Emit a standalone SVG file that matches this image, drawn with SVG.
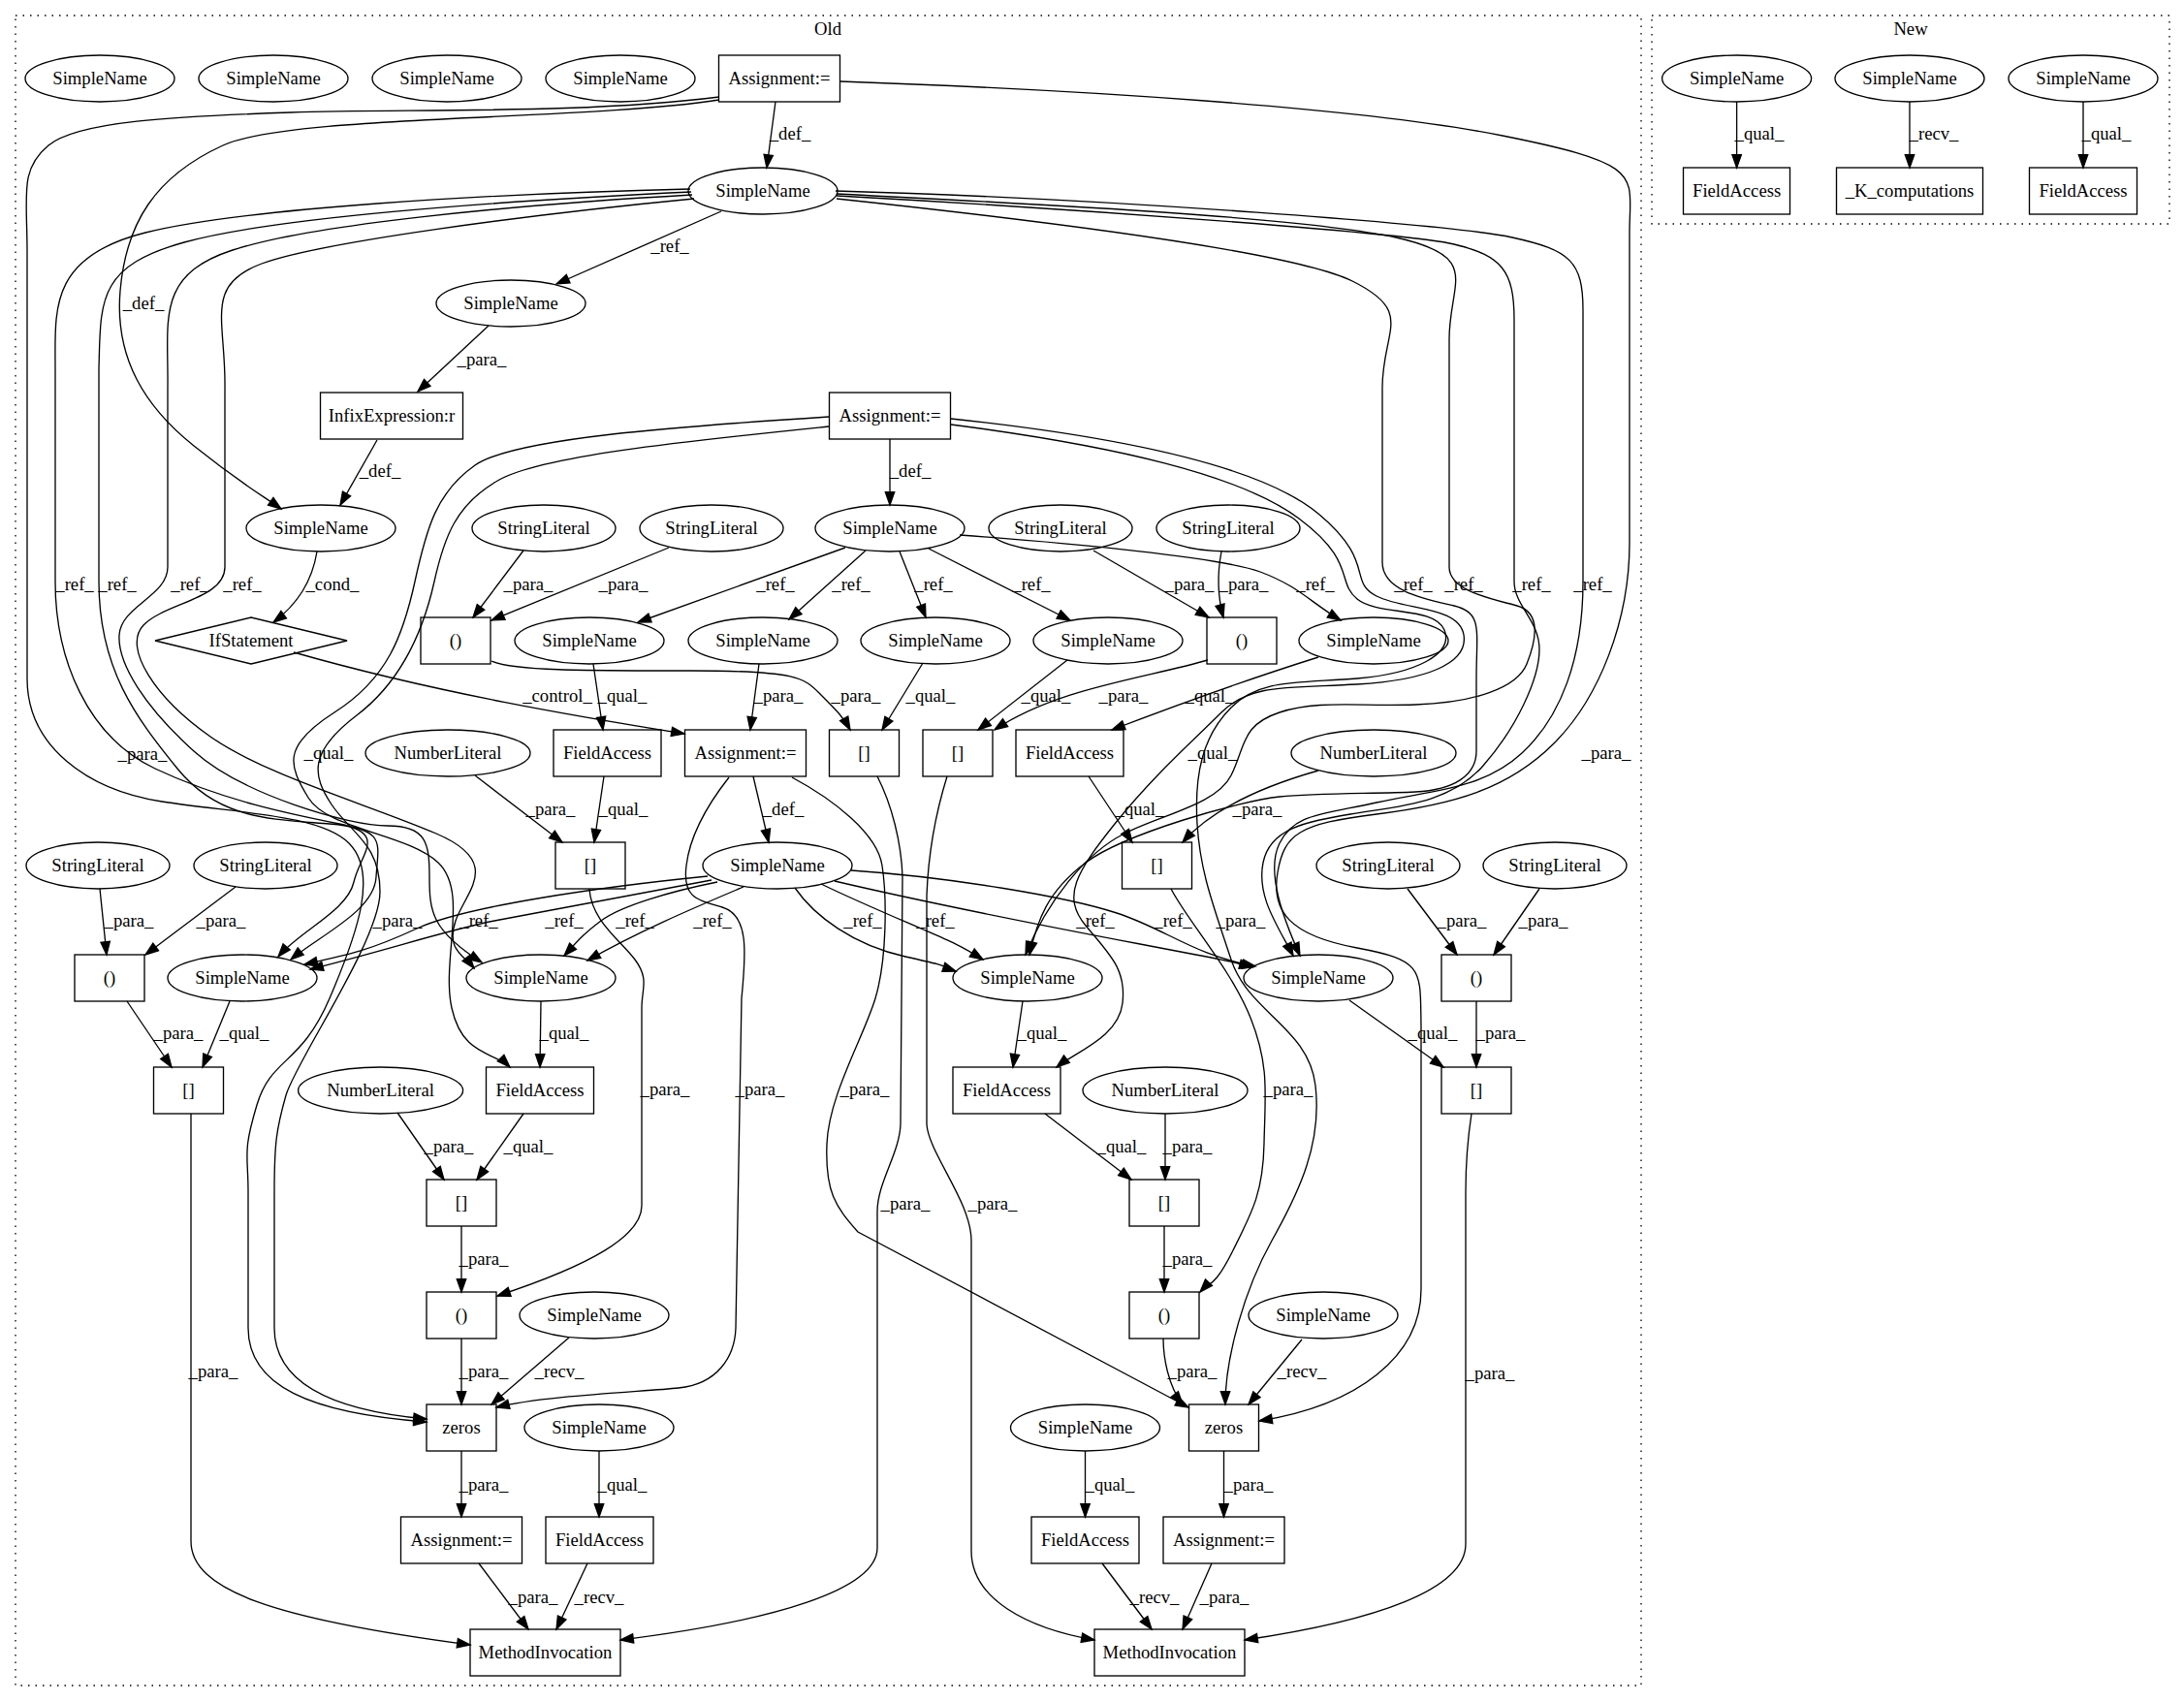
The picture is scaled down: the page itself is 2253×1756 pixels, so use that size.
<svg xmlns="http://www.w3.org/2000/svg" width="2253" height="1756" viewBox="0 0 2253 1756">
<style>
.n ellipse,.n rect,.n polygon{fill:none;stroke:#000;stroke-width:1.33}
text{font-family:"Liberation Serif","Times New Roman",serif;font-size:18.67px;fill:#000;text-anchor:middle}
.e path{fill:none;stroke:#000;stroke-width:1.33;marker-end:url(#a)}
.cl{fill:none;stroke:#000;stroke-width:1.33;stroke-dasharray:1.5,6}
</style>
<defs>
<marker id="a" markerUnits="userSpaceOnUse" markerWidth="15" markerHeight="11" refX="13.3" refY="5" orient="auto" overflow="visible">
<path d="M0,0.3 L13.3,5 L0,9.7 Z" fill="#000" stroke="#000" stroke-width="1.33"/>
</marker>
</defs>
<rect x="0" y="0" width="2253" height="1756" fill="#fff"/>
<g id="cluster_old"><rect class="cl" x="16" y="16" width="1677" height="1723"/><text x="854" y="36">Old</text></g>
<g id="cluster_new"><rect class="cl" x="1704" y="16" width="534" height="215"/><text x="1971" y="36">New</text></g>

<g id="edges" class="e">
<path d="M1791.6,105 L1791.6,173"/><text x="1815" y="144">_qual_</text>
<path d="M1970,105 L1970,173"/><text x="1995" y="144">_recv_</text>
<path d="M2149,105 L2149,173"/><text x="2173" y="144">_qual_</text>

<path d="M800,105 L791,173"/><text x="815" y="144">_def_</text>
<path d="M742,103 C 600,125 300,118 230,150 S 130,230 124,300 S 150,420 200,460 S 272,512 290,525"/><text x="148" y="319">_def_</text>
<path d="M742,100 C 600,118 420,112 300,116 S 80,125 50,150 S 28,200 28,260 L28,700 C 28,770 90,815 167,827 S 330,840 360,870 S 370,960 340,1030 S 280,1090 265,1140 S 256,1190 256,1230 L256,1370 C 256,1430 320,1458 440,1467"/><text x="147" y="784">_para_</text>
<path d="M867,84 C 1100,92 1400,110 1550,140 S 1681,180 1681,240 L1681,560 C 1681,640 1650,720 1603,767 S 1500,830 1420,840 S 1325,860 1318,900 S 1330,965 1400,978 S 1465,1000 1466,1060 L1466,1330 C 1466,1400 1400,1450 1299,1466"/><text x="1657" y="783">_para_</text>
<path d="M744,218 L574,293"/><text x="691" y="260">_ref_</text>
<path d="M504,336 L431,404"/><text x="497" y="377">_para_</text>
<path d="M389,454 L351,521"/><text x="392" y="492">_def_</text>
<path d="M918,453 L918,521"/><text x="939" y="492">_def_</text>
<path d="M855,430 C 700,440 530,452 490,480 S 440,545 428,600 S 400,700 345,735 S 298,790 318,823 S 420,860 452,890 S 455,990 466,1040 S 510,1085 526,1101"/><text x="339" y="783">_qual_</text>
<path d="M855,440 C 710,455 560,470 515,495 S 458,555 448,600 S 418,700 368,738 S 322,800 342,830 S 392,870 392,920 S 305,1095 295,1130 S 283,1180 283,1230 L283,1370 C 283,1425 340,1455 440,1464"/><text x="410" y="956">_para_</text>
<path d="M981,432 C 1150,450 1300,480 1360,530 S 1390,600 1420,615 S 1505,625 1510,655 S 1470,702 1400,706 S 1290,705 1260,735 S 1190,800 1150,850 S 1095,925 1120,955 S 1162,1000 1158,1035 S 1110,1085 1090,1101"/><text x="1251" y="783">_qual_</text>
<path d="M981,438 C 1150,460 1280,490 1340,535 S 1378,600 1400,618 S 1480,625 1490,650 S 1460,695 1400,700 S 1300,700 1270,730 S 1232,800 1235,850 S 1252,935 1270,990 S 1350,1060 1357,1120 S 1340,1230 1312,1280 S 1264,1400 1264,1449"/><text x="1280" y="956">_para_</text>

<path d="M712,195 C 500,200 250,215 150,240 S 57,320 57,380 L57,600 C 57,680 90,760 160,793 S 300,840 350,850 S 372,880 365,910 S 310,960 287,987"/><text x="77" y="609">_ref_</text>
<path d="M713,198 C 500,208 280,225 190,250 S 104,310 102,380 L102,600 C 102,690 140,740 183,793 S 280,845 340,850 S 390,870 388,905 S 330,965 300,990"/><text x="121" y="609">_ref_</text>
<path d="M714,201 C 520,212 320,232 240,258 S 174,330 173,400 L173,585 C 173,615 125,625 123,655 S 150,730 200,775 S 360,852 400,852 S 443,870 443,905 S 445,960 497,993"/><text x="196" y="609">_ref_</text>
<path d="M716,205 C 540,222 330,250 270,272 S 233,330 232,400 L232,585 C 232,618 170,622 148,645 S 160,720 217,760 S 380,830 450,860 S 480,920 470,950 S 478,985 489,999"/><text x="250" y="609">_ref_</text>

<path d="M863,205 C 1050,225 1330,258 1395,290 S 1426,340 1426,400 L1426,580 C 1426,610 1470,618 1500,625 S 1523,650 1523,700 L1523,775 C 1523,800 1500,815 1460,817 S 1360,818 1320,822 S 1160,860 1120,890 S 1070,950 1062,985"/><text x="1458" y="609">_ref_</text>
<path d="M863,200 C 1100,212 1350,225 1440,245 S 1495,290 1495,350 L1495,585 C 1495,610 1540,618 1565,625 S 1585,660 1575,685 S 1520,725 1460,727 S 1360,722 1320,735 S 1285,770 1270,800 S 1200,840 1160,860 S 1080,930 1058,985"/><text x="1510" y="609">_ref_</text>
<path d="M863,202 C 1100,215 1450,240 1500,252 S 1562,280 1562,330 L1562,600 C 1562,625 1588,640 1588,670 S 1565,750 1530,790 S 1440,832 1393,840 S 1310,855 1303,890 S 1318,955 1334,986"/><text x="1580" y="609">_ref_</text>
<path d="M862,197 C 1150,205 1500,232 1560,245 S 1633,270 1633,320 L1633,600 C 1633,680 1610,740 1570,777 S 1480,815 1420,828 S 1335,840 1320,870 S 1325,950 1341,986"/><text x="1643" y="609">_ref_</text>

<path d="M327,569 C 322,600 305,625 282,642"/><text x="343" y="609">_cond_</text>
<path d="M540,568 L488,637"/><text x="545" y="609">_para_</text>
<path d="M690,565 L507,640"/><text x="643" y="609">_para_</text>
<path d="M872,565 L658,642"/><text x="800" y="609">_ref_</text>
<path d="M893,568 L814,639"/><text x="878" y="609">_ref_</text>
<path d="M928,569 L955,637"/><text x="963" y="609">_ref_</text>
<path d="M958,566 L1104,640"/><text x="1064" y="609">_ref_</text>
<path d="M990,552 C 1100,560 1260,575 1300,590 S 1350,620 1383,640"/><text x="1357" y="609">_ref_</text>
<path d="M1128,568 L1247,637"/><text x="1227" y="609">_para_</text>
<path d="M1260,569 C 1256,590 1256,615 1262,637"/><text x="1283" y="609">_para_</text>

<path d="M303,673 C 450,715 600,740 706,757"/><text x="575" y="724">_control_</text>
<path d="M612,685 L622,753"/><text x="642" y="724">_qual_</text>
<path d="M783,685 L774,753"/><text x="803" y="724">_para_</text>
<path d="M507,682 C 530,692 600,692 713,692 S 830,700 847,717 S 870,740 877,753"/><text x="883" y="724">_para_</text>
<path d="M952,684 L910,753"/><text x="960" y="724">_qual_</text>
<path d="M1101,681 L1009,753"/><text x="1079" y="724">_qual_</text>
<path d="M1246,681 C 1180,700 1090,710 1026,753"/><text x="1159" y="724">_para_</text>
<path d="M1360,678 C 1290,700 1220,725 1147,753"/><text x="1248" y="724">_qual_</text>

<path d="M490,800 L580,869"/><text x="568" y="841">_para_</text>
<path d="M623,801 L613,869"/><text x="643" y="841">_qual_</text>
<path d="M777,801 L793,869"/><text x="808" y="841">_def_</text>
<path d="M1123,801 L1168,869"/><text x="1176" y="841">_qual_</text>
<path d="M1360,795 C 1300,812 1250,835 1220,869"/><text x="1297" y="841">_para_</text>

<path d="M752,802 C 730,830 712,860 708,893 S 718,928 745,936 S 770,980 765,1030 L759,1370 C 758,1400 740,1428 700,1432 S 560,1440 512,1452"/><text x="784" y="1130">_para_</text>
<path d="M817,802 C 860,825 905,860 910,893 S 915,990 903,1030 S 855,1130 853,1180 S 862,1245 885,1271 L1226,1452"/><text x="892" y="1130">_para_</text>
<path d="M905,801 C 920,830 930,870 931,905 L929,1160 C 928,1190 905,1220 905,1250 L905,1597 C 905,1640 800,1672 640,1692"/><text x="934" y="1248">_para_</text>
<path d="M977,801 C 968,830 958,870 956,924 L956,1160 C 958,1190 1002,1240 1002,1280 L1002,1600 C 1002,1650 1060,1680 1129,1692"/><text x="1024" y="1248">_para_</text>

<path d="M730,904 C 620,915 480,935 430,958 S 360,985 314,995"/><text x="494" y="956">_ref_</text>
<path d="M734,908 C 640,925 560,940 510,950 S 400,980 320,1000"/><text x="582" y="956">_ref_</text>
<path d="M740,910 C 690,920 640,935 620,950 S 595,972 582,986"/><text x="655" y="956">_ref_</text>
<path d="M767,915 C 720,935 660,960 606,991"/><text x="735" y="956">_ref_</text>
<path d="M820,916 C 840,945 880,975 934,987 S 965,995 986,1002"/><text x="890" y="956">_ref_</text>
<path d="M847,912 C 880,928 920,945 950,958 S 990,975 1014,990"/><text x="965" y="956">_ref_</text>
<path d="M861,909 C 950,930 1050,950 1176,974 S 1260,990 1292,998"/><text x="1130" y="956">_ref_</text>
<path d="M878,898 C 980,905 1100,925 1152,942 S 1230,985 1295,997"/><text x="1210" y="956">_ref_</text>

<path d="M103,917 L110,985"/><text x="133" y="956">_para_</text>
<path d="M243,915 L150,985"/><text x="228" y="956">_para_</text>
<path d="M1452,917 L1503,985"/><text x="1508" y="956">_para_</text>
<path d="M1588,917 L1541,985"/><text x="1592" y="956">_para_</text>

<path d="M131,1033 L177,1101"/><text x="184" y="1072">_para_</text>
<path d="M237,1033 L209,1101"/><text x="252" y="1072">_qual_</text>
<path d="M558,1033 L557,1101"/><text x="582" y="1072">_qual_</text>
<path d="M1055,1033 L1045,1101"/><text x="1075" y="1072">_qual_</text>
<path d="M1392,1032 L1489,1101"/><text x="1478" y="1072">_qual_</text>
<path d="M1523,1033 L1523,1101"/><text x="1548" y="1072">_para_</text>

<path d="M608,917 C 610,950 640,970 655,990 S 662,1020 662,1040 L662,1244 C 662,1275 610,1305 513,1337"/><text x="686" y="1130">_para_</text>
<path d="M1208,917 C 1225,950 1270,1000 1290,1050 S 1305,1130 1304,1180 S 1292,1250 1272,1290 S 1248,1322 1238,1333"/><text x="1329" y="1130">_para_</text>

<path d="M540,1149 L492,1217"/><text x="545" y="1189">_qual_</text>
<path d="M410,1148 L458,1217"/><text x="463" y="1189">_para_</text>
<path d="M1078,1149 L1167,1217"/><text x="1157" y="1189">_qual_</text>
<path d="M1202,1149 L1202,1217"/><text x="1225" y="1189">_para_</text>

<path d="M197,1149 L197,1590 C 197,1640 280,1670 485,1697"/><text x="220" y="1421">_para_</text>
<path d="M1518,1149 C 1514,1175 1512,1200 1512,1230 L1512,1593 C 1512,1640 1420,1672 1284,1692"/><text x="1537" y="1423">_para_</text>

<path d="M476,1265 L476,1333"/><text x="499" y="1305">_para_</text>
<path d="M1201,1265 L1201,1333"/><text x="1225" y="1305">_para_</text>

<path d="M476,1381 L476,1449"/><text x="499" y="1421">_para_</text>
<path d="M587,1380 L507,1449"/><text x="577" y="1421">_recv_</text>
<path d="M1200,1381 C 1200,1400 1205,1430 1220,1449"/><text x="1230" y="1421">_para_</text>
<path d="M1343,1382 L1288,1449"/><text x="1343" y="1421">_recv_</text>

<path d="M476,1497 L476,1565"/><text x="499" y="1538">_para_</text>
<path d="M618,1497 L618,1565"/><text x="642" y="1538">_qual_</text>
<path d="M1119.5,1497 L1119.5,1565"/><text x="1145" y="1538">_qual_</text>
<path d="M1262.5,1497 L1262.5,1565"/><text x="1288" y="1538">_para_</text>

<path d="M494,1613 L545,1681"/><text x="550" y="1654">_para_</text>
<path d="M606,1613 L574,1681"/><text x="618" y="1654">_recv_</text>
<path d="M1137,1613 L1188,1681"/><text x="1191" y="1654">_recv_</text>
<path d="M1250,1613 L1220,1681"/><text x="1263" y="1654">_para_</text>
</g>

<g id="n_sn_a" class="n"><ellipse cx="103" cy="81" rx="77" ry="24"/><text x="103" y="87">SimpleName</text></g>
<g id="n_sn_b" class="n"><ellipse cx="282" cy="81" rx="77" ry="24"/><text x="282" y="87">SimpleName</text></g>
<g id="n_sn_c" class="n"><ellipse cx="461" cy="81" rx="77" ry="24"/><text x="461" y="87">SimpleName</text></g>
<g id="n_sn_d" class="n"><ellipse cx="640" cy="81" rx="77" ry="24"/><text x="640" y="87">SimpleName</text></g>
<g id="n_asg1" class="n"><rect x="741.5" y="57" width="125" height="48"/><text x="804" y="87">Assignment:=</text></g>
<g id="n_sn1" class="n"><ellipse cx="787" cy="197" rx="77" ry="24"/><text x="787" y="203">SimpleName</text></g>
<g id="n_sn2" class="n"><ellipse cx="527" cy="313" rx="77" ry="24"/><text x="527" y="319">SimpleName</text></g>
<g id="n_infix" class="n"><rect x="330.5" y="405" width="147" height="48"/><text x="404" y="435">InfixExpression:r</text></g>
<g id="n_asg2" class="n"><rect x="855.5" y="405" width="125" height="48"/><text x="918" y="435">Assignment:=</text></g>
<g id="n_sn3" class="n"><ellipse cx="331" cy="545" rx="77" ry="24"/><text x="331" y="551">SimpleName</text></g>
<g id="n_sl1" class="n"><ellipse cx="561" cy="545" rx="74" ry="24"/><text x="561" y="551">StringLiteral</text></g>
<g id="n_sl2" class="n"><ellipse cx="734" cy="545" rx="74" ry="24"/><text x="734" y="551">StringLiteral</text></g>
<g id="n_sn4" class="n"><ellipse cx="918" cy="545" rx="77" ry="24"/><text x="918" y="551">SimpleName</text></g>
<g id="n_sl3" class="n"><ellipse cx="1094" cy="545" rx="74" ry="24"/><text x="1094" y="551">StringLiteral</text></g>
<g id="n_sl4" class="n"><ellipse cx="1267" cy="545" rx="74" ry="24"/><text x="1267" y="551">StringLiteral</text></g>
<g id="n_if" class="n"><polygon points="160,661 259,637 358,661 259,685"/><text x="259" y="667">IfStatement</text></g>
<g id="n_par1" class="n"><rect x="434" y="637" width="72" height="48"/><text x="470" y="667">()</text></g>
<g id="n_sn5" class="n"><ellipse cx="608" cy="661" rx="77" ry="24"/><text x="608" y="667">SimpleName</text></g>
<g id="n_sn6" class="n"><ellipse cx="787" cy="661" rx="77" ry="24"/><text x="787" y="667">SimpleName</text></g>
<g id="n_sn7" class="n"><ellipse cx="965" cy="661" rx="77" ry="24"/><text x="965" y="667">SimpleName</text></g>
<g id="n_sn8" class="n"><ellipse cx="1143" cy="661" rx="77" ry="24"/><text x="1143" y="667">SimpleName</text></g>
<g id="n_par2" class="n"><rect x="1245" y="637" width="72" height="48"/><text x="1281" y="667">()</text></g>
<g id="n_sn9" class="n"><ellipse cx="1417" cy="661" rx="77" ry="24"/><text x="1417" y="667">SimpleName</text></g>
<g id="n_nl1" class="n"><ellipse cx="462" cy="777" rx="85" ry="24"/><text x="462" y="783">NumberLiteral</text></g>
<g id="n_fa1" class="n"><rect x="571" y="753" width="111" height="48"/><text x="626.5" y="783">FieldAccess</text></g>
<g id="n_asg3" class="n"><rect x="706.5" y="753" width="125" height="48"/><text x="769" y="783">Assignment:=</text></g>
<g id="n_br1" class="n"><rect x="855.5" y="753" width="72" height="48"/><text x="891.5" y="783">[]</text></g>
<g id="n_br2" class="n"><rect x="952" y="753" width="72" height="48"/><text x="988" y="783">[]</text></g>
<g id="n_fa2" class="n"><rect x="1048" y="753" width="111" height="48"/><text x="1103.5" y="783">FieldAccess</text></g>
<g id="n_nl2" class="n"><ellipse cx="1417" cy="777" rx="85" ry="24"/><text x="1417" y="783">NumberLiteral</text></g>
<g id="n_sl5" class="n"><ellipse cx="101" cy="893" rx="74" ry="24"/><text x="101" y="899">StringLiteral</text></g>
<g id="n_sl6" class="n"><ellipse cx="274" cy="893" rx="74" ry="24"/><text x="274" y="899">StringLiteral</text></g>
<g id="n_br3" class="n"><rect x="573" y="869" width="72" height="48"/><text x="609" y="899">[]</text></g>
<g id="n_sn10" class="n"><ellipse cx="802" cy="893" rx="77" ry="24"/><text x="802" y="899">SimpleName</text></g>
<g id="n_br4" class="n"><rect x="1157.5" y="869" width="72" height="48"/><text x="1193.5" y="899">[]</text></g>
<g id="n_sl7" class="n"><ellipse cx="1432" cy="893" rx="74" ry="24"/><text x="1432" y="899">StringLiteral</text></g>
<g id="n_sl8" class="n"><ellipse cx="1604" cy="893" rx="74" ry="24"/><text x="1604" y="899">StringLiteral</text></g>
<g id="n_par3" class="n"><rect x="77" y="985" width="72" height="48"/><text x="113" y="1015">()</text></g>
<g id="n_sn11" class="n"><ellipse cx="250" cy="1009" rx="77" ry="24"/><text x="250" y="1015">SimpleName</text></g>
<g id="n_sn12" class="n"><ellipse cx="558" cy="1009" rx="77" ry="24"/><text x="558" y="1015">SimpleName</text></g>
<g id="n_sn13" class="n"><ellipse cx="1060" cy="1009" rx="77" ry="24"/><text x="1060" y="1015">SimpleName</text></g>
<g id="n_sn14" class="n"><ellipse cx="1360" cy="1009" rx="77" ry="24"/><text x="1360" y="1015">SimpleName</text></g>
<g id="n_par4" class="n"><rect x="1487" y="985" width="72" height="48"/><text x="1523" y="1015">()</text></g>
<g id="n_br5" class="n"><rect x="158.5" y="1101" width="72" height="48"/><text x="194.5" y="1131">[]</text></g>
<g id="n_nl3" class="n"><ellipse cx="392.6" cy="1125" rx="85" ry="24"/><text x="392.6" y="1131">NumberLiteral</text></g>
<g id="n_fa3" class="n"><rect x="501.5" y="1101" width="111" height="48"/><text x="557" y="1131">FieldAccess</text></g>
<g id="n_fa4" class="n"><rect x="983" y="1101" width="111" height="48"/><text x="1038.5" y="1131">FieldAccess</text></g>
<g id="n_nl4" class="n"><ellipse cx="1202" cy="1125" rx="85" ry="24"/><text x="1202" y="1131">NumberLiteral</text></g>
<g id="n_br6" class="n"><rect x="1487" y="1101" width="72" height="48"/><text x="1523" y="1131">[]</text></g>
<g id="n_br7" class="n"><rect x="440" y="1217" width="72" height="48"/><text x="476" y="1247">[]</text></g>
<g id="n_br8" class="n"><rect x="1165" y="1217" width="72" height="48"/><text x="1201" y="1247">[]</text></g>
<g id="n_par5" class="n"><rect x="440" y="1333" width="72" height="48"/><text x="476" y="1363">()</text></g>
<g id="n_sn15" class="n"><ellipse cx="613" cy="1357" rx="77" ry="24"/><text x="613" y="1363">SimpleName</text></g>
<g id="n_par6" class="n"><rect x="1165" y="1333" width="72" height="48"/><text x="1201" y="1363">()</text></g>
<g id="n_sn16" class="n"><ellipse cx="1365" cy="1357" rx="77" ry="24"/><text x="1365" y="1363">SimpleName</text></g>
<g id="n_zeros1" class="n"><rect x="440" y="1449" width="72" height="48"/><text x="476" y="1479">zeros</text></g>
<g id="n_sn17" class="n"><ellipse cx="618" cy="1473" rx="77" ry="24"/><text x="618" y="1479">SimpleName</text></g>
<g id="n_sn18" class="n"><ellipse cx="1119.5" cy="1473" rx="77" ry="24"/><text x="1119.5" y="1479">SimpleName</text></g>
<g id="n_zeros2" class="n"><rect x="1226.5" y="1449" width="72" height="48"/><text x="1262.5" y="1479">zeros</text></g>
<g id="n_asg4" class="n"><rect x="413.5" y="1565" width="125" height="48"/><text x="476" y="1595">Assignment:=</text></g>
<g id="n_fa5" class="n"><rect x="563" y="1565" width="111" height="48"/><text x="618.5" y="1595">FieldAccess</text></g>
<g id="n_fa6" class="n"><rect x="1064" y="1565" width="111" height="48"/><text x="1119.5" y="1595">FieldAccess</text></g>
<g id="n_asg5" class="n"><rect x="1200" y="1565" width="125" height="48"/><text x="1262.5" y="1595">Assignment:=</text></g>
<g id="n_mi1" class="n"><rect x="485" y="1681" width="155" height="48"/><text x="562.5" y="1711">MethodInvocation</text></g>
<g id="n_mi2" class="n"><rect x="1129" y="1681" width="155" height="48"/><text x="1206.5" y="1711">MethodInvocation</text></g>

<g id="n_new_sn1" class="n"><ellipse cx="1791.6" cy="81" rx="77" ry="24"/><text x="1791.6" y="87">SimpleName</text></g>
<g id="n_new_fa1" class="n"><rect x="1736.5" y="173" width="110" height="48"/><text x="1791.6" y="203">FieldAccess</text></g>
<g id="n_new_sn2" class="n"><ellipse cx="1970" cy="81" rx="77" ry="24"/><text x="1970" y="87">SimpleName</text></g>
<g id="n_new_k" class="n"><rect x="1894.5" y="173" width="151" height="48"/><text x="1970" y="203">_K_computations</text></g>
<g id="n_new_sn3" class="n"><ellipse cx="2149" cy="81" rx="77" ry="24"/><text x="2149" y="87">SimpleName</text></g>
<g id="n_new_fa2" class="n"><rect x="2093.5" y="173" width="111" height="48"/><text x="2149" y="203">FieldAccess</text></g>
</svg>
